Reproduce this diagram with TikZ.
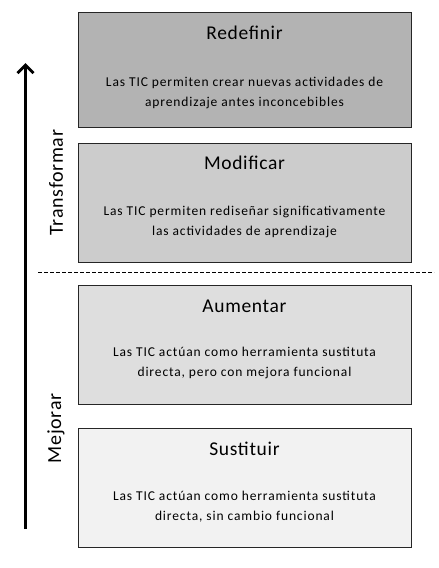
\documentclass[tikz,border=0pt]{standalone}
\usepackage{fontspec}
\setmainfont{Carlito}
\newfontfamily\bodyfont[LetterSpace=6.5]{Carlito}
\newfontfamily\titlefont[LetterSpace=3.5]{Carlito}
\usetikzlibrary{arrows.meta}
\definecolor{cRed}{HTML}{B3B3B3}
\definecolor{cMod}{HTML}{CCCCCC}
\definecolor{cAum}{HTML}{DEDEDE}
\definecolor{cSus}{HTML}{F2F2F2}
\tikzset{
  levelbox/.style={draw=black!85, line width=0.9pt, minimum width=333pt, minimum height=118pt, inner sep=0pt, anchor=north west},
  ttl/.style={font=\titlefont\fontsize{19.5}{22}\selectfont, anchor=center},
  body/.style={font=\bodyfont\fontsize{13.5}{20}\selectfont, align=center, anchor=center},
  side/.style={font=\titlefont\fontsize{20}{22}\selectfont, rotate=90, anchor=center},
}
\begin{document}
\begin{tikzpicture}[x=1pt,y=-1pt]
\useasboundingbox (0,0) rectangle (439,568);
\node[levelbox, fill=cRed, minimum height=115pt] (b1) at (78,12) {};
\node[levelbox, fill=cMod, minimum height=119pt] (b2) at (78,143) {};
\node[levelbox, fill=cAum, minimum height=119pt] (b3) at (78,285) {};
\node[levelbox, fill=cSus, minimum height=119pt] (b4) at (78,428) {};
\node[ttl] (t1) at (244.5,33) {Redefinir};
\node[body] (d1) at (244.5,92.5) {Las TIC permiten crear nuevas actividades de\\aprendizaje antes inconcebibles};
\node[ttl] (t2) at (244.5,163) {Modificar};
\node[body] (d2) at (244.5,221.5) {Las TIC permiten rediseñar significativamente\\las actividades de aprendizaje};
\node[ttl] (t3) at (244.5,306) {Aumentar};
\node[body] (d3) at (244.5,362.5) {Las TIC actúan como herramienta sustituta\\directa, pero con mejora funcional};
\node[ttl] (t4) at (244.5,449) {Sustituir};
\node[body] (d4) at (244.5,507) {Las TIC actúan como herramienta sustituta\\directa, sin cambio funcional};
\coordinate (dl) at (38,272.5);
\coordinate (dr) at (434,272.5);
\draw[line width=0.9pt, dash pattern=on 4pt off 2pt] (dl) -- (dr);
\coordinate (abot) at (25.5,529);
\coordinate (atop) at (25.5,63);
\draw[line width=3pt, -{Straight Barb[length=8pt,width=16pt]}] (abot) -- (atop);
\node[side] (tr) at (56,182.5) {Transformar};
\node[side] (mj) at (56,428.5) {Mejorar};
\end{tikzpicture}
\end{document}
